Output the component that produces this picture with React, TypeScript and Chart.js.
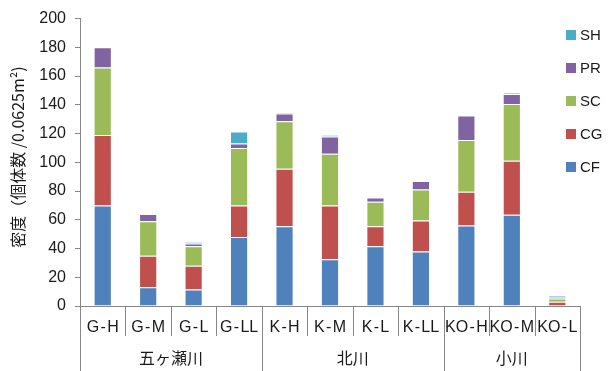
import { useEffect, useRef } from "react";
import { Chart, registerables } from "chart.js";

Chart.register(...registerables);

// Sampling sites and their river groups
const categories = ["G-H", "G-M", "G-L", "G-LL", "K-H", "K-M", "K-L", "K-LL", "KO-H", "KO-M", "KO-L"];
const groupLabels = ["五ヶ瀬川", "北川", "小川"];
const groupSizes = [4, 4, 3];

// Density per taxon (individuals / 0.0625 m²)
const cfValues = [70, 13, 11.5, 48, 55.5, 32.5, 41.5, 38, 56, 63.5, 0.3];
const cgValues = [49, 22, 16.5, 22, 40, 37.5, 14, 21.5, 23.5, 37.5, 2.7];
const scValues = [47, 24, 13.5, 40, 33, 36, 17, 21.5, 36, 39.5, 2.3];
const prValues = [14, 5, 2, 3, 5.5, 12, 3, 6, 17, 7, 0.9];
const shValues = [0, 0, 1, 8.5, 0.5, 1, 0, 0, 0, 0.7, 0.7];

const seriesNames = ["CF", "CG", "SC", "PR", "SH"];
const seriesColors = ["#4F81BD", "#C0504D", "#9BBB59", "#8064A2", "#4BACC6"];
const seriesValues = [cfValues, cgValues, scValues, prValues, shValues];

const yTitle = "密度（個体数 /0.0625m²)";
const axisColor = "#878787";
const textColor = "#1a1a1a";
const latinFont = "'Liberation Sans', Arial, 'Noto Sans CJK JP', sans-serif";
const cjkFont = "'Noto Sans CJK JP', 'Liberation Sans', sans-serif";

const decorPlugin = {
  id: "decor",
  afterDraw(chart: any) {
    const { ctx, chartArea, scales } = chart;
    const x = scales.x;
    const bottom = chartArea.bottom;
    const step = x.getPixelForValue(1) - x.getPixelForValue(0);
    const half = step / 2;
    const n = categories.length;

    // boundaries between categories, longer lines at group edges
    const groupEdges = new Set<number>([0]);
    let acc = 0;
    groupSizes.forEach((s) => {
      acc += s;
      groupEdges.add(acc);
    });

    ctx.save();
    ctx.strokeStyle = axisColor;
    ctx.lineWidth = 1;
    for (let i = 0; i <= n; i++) {
      const px = Math.round(x.getPixelForValue(0) - half + i * step) + 0.5;
      const endY = groupEdges.has(i) ? chart.height : bottom + 30;
      ctx.beginPath();
      ctx.moveTo(px, bottom);
      ctx.lineTo(px, endY);
      ctx.stroke();
    }

    // category labels
    ctx.fillStyle = textColor;
    ctx.font = `16px ${latinFont}`;
    ctx.textAlign = "center";
    ctx.textBaseline = "middle";
    categories.forEach((c, i) => {
      const label = c.replace("-", "\u200A-\u200A");
      ctx.fillText(label, x.getPixelForValue(i), bottom + 22);
    });

    // group labels
    ctx.font = `16px ${cjkFont}`;
    let start = 0;
    groupLabels.forEach((g, gi) => {
      const end = start + groupSizes[gi] - 1;
      const cx = (x.getPixelForValue(start) + x.getPixelForValue(end)) / 2;
      ctx.fillText(g, cx, bottom + 52);
      start += groupSizes[gi];
    });

    // y-axis title
    ctx.save();
    ctx.translate(18, 157);
    ctx.rotate(-Math.PI / 2);
    ctx.font = `16px ${cjkFont}`;
    ctx.fillText(yTitle, 0, 0);
    ctx.restore();

    // legend, top entry is the last series
    ctx.font = `15px ${latinFont}`;
    ctx.textAlign = "left";
    for (let k = 0; k < seriesNames.length; k++) {
      const si = seriesNames.length - 1 - k;
      const cy = 35 + k * 33;
      ctx.fillStyle = seriesColors[si];
      ctx.fillRect(566, cy - 5, 10, 10);
      ctx.fillStyle = textColor;
      ctx.fillText(seriesNames[si], 580, cy + 1);
    }
    ctx.restore();
  },
};

export default function App() {
  const canvasRef = useRef<HTMLCanvasElement | null>(null);

  useEffect(() => {
    const canvas = canvasRef.current;
    if (!canvas) return;
    const chart = new Chart(canvas, {
      type: "bar",
      data: {
        labels: categories,
        datasets: seriesNames.map((name, i) => ({
          label: name,
          data: seriesValues[i],
          backgroundColor: seriesColors[i],
          borderColor: "rgba(255,255,255,0.35)",
          borderWidth: 1,
          categoryPercentage: 1,
          barPercentage: 0.4,
        })),
      },
      options: {
        responsive: false,
        animation: false,
        layout: { padding: { top: 15, right: 28, bottom: 0, left: 0 } },
        plugins: { legend: { display: false }, tooltip: { enabled: false } },
        scales: {
          x: {
            stacked: true,
            grid: { display: false },
            border: { display: true, color: axisColor, width: 1 },
            ticks: { display: false },
            afterFit: (s: any) => {
              s.height = 65;
            },
          },
          y: {
            stacked: true,
            min: 0,
            max: 200,
            ticks: {
              stepSize: 20,
              color: textColor,
              padding: 9,
              font: { family: latinFont, size: 16 },
            },
            grid: {
              drawOnChartArea: false,
              drawTicks: true,
              tickLength: 5,
              color: axisColor,
            },
            border: { display: true, color: axisColor, width: 1 },
            afterFit: (s: any) => {
              s.width = 80;
            },
          },
        },
      },
      plugins: [decorPlugin],
    });
    return () => chart.destroy();
  }, []);

  return (
    <div style={{ position: "fixed", left: 0, top: 0, width: 608, height: 371, background: "#fff" }}>
      <canvas ref={canvasRef} width={608} height={371} />
    </div>
  );
}
